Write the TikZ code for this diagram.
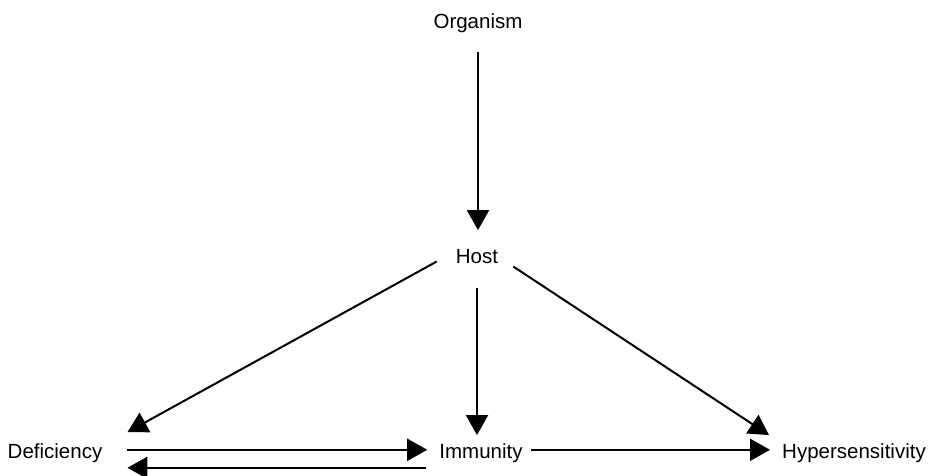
\documentclass[tikz,border=0pt]{standalone}
\usepackage{fontspec}
\setmainfont{Liberation Sans}
\usetikzlibrary{arrows.meta}

\tikzset{
	word/.style={inner sep=0pt, text height=14.7pt, text depth=4.3pt, anchor=base,
		font=\fontsize{20.5}{24}\selectfont},
	link/.style={line width=2pt, -{Triangle[width=22pt,length=20pt]}}
}

\begin{document}
\begin{tikzpicture}[x=1pt,y=-1pt]
			%%%%% START %%%%%
			
			\useasboundingbox (0, 0) rectangle (932, 475);
			
			\node[word] (org) at (478, 28) {Organism};
			\node[word] (host) at (477, 263) {Host};
			
			\node[word] (def) at (55, 458) {Deficiency};
			\node[word] (imm) at (481, 458) {Immunity};
			\node[word] (hyp) at (854, 458) {Hypersensitivity};
			
			\draw[link] ([yshift=-19pt]org.south) -- ([yshift=18pt]org.south |- host.north);
			
			\draw[link] ([xshift=-19pt, yshift=6pt]host.south west) -- ([xshift=25pt, yshift=11pt]def.north east);
			\draw[link] ([yshift=-20pt]host.south) -- ([yshift=8pt]host.south |- imm.north);
			\draw[link] ([xshift=15pt, yshift=1pt]host.south east) -- ([xshift=-13pt, yshift=8pt]hyp.north west);
			
			\draw[link] ([xshift=25pt, yshift=3pt]def.east) -- ([xshift=-12pt, yshift=3pt]imm.west);
			\draw[link] ([xshift=-13pt, yshift=-15pt]imm.west) -- ([xshift=25pt, yshift=-15pt]def.east);
			\draw[link] ([xshift=8pt, yshift=3pt]imm.east) -- ([xshift=-12pt, yshift=3pt]hyp.west);
			
			%%%%% END %%%%%
\end{tikzpicture}
\end{document}
